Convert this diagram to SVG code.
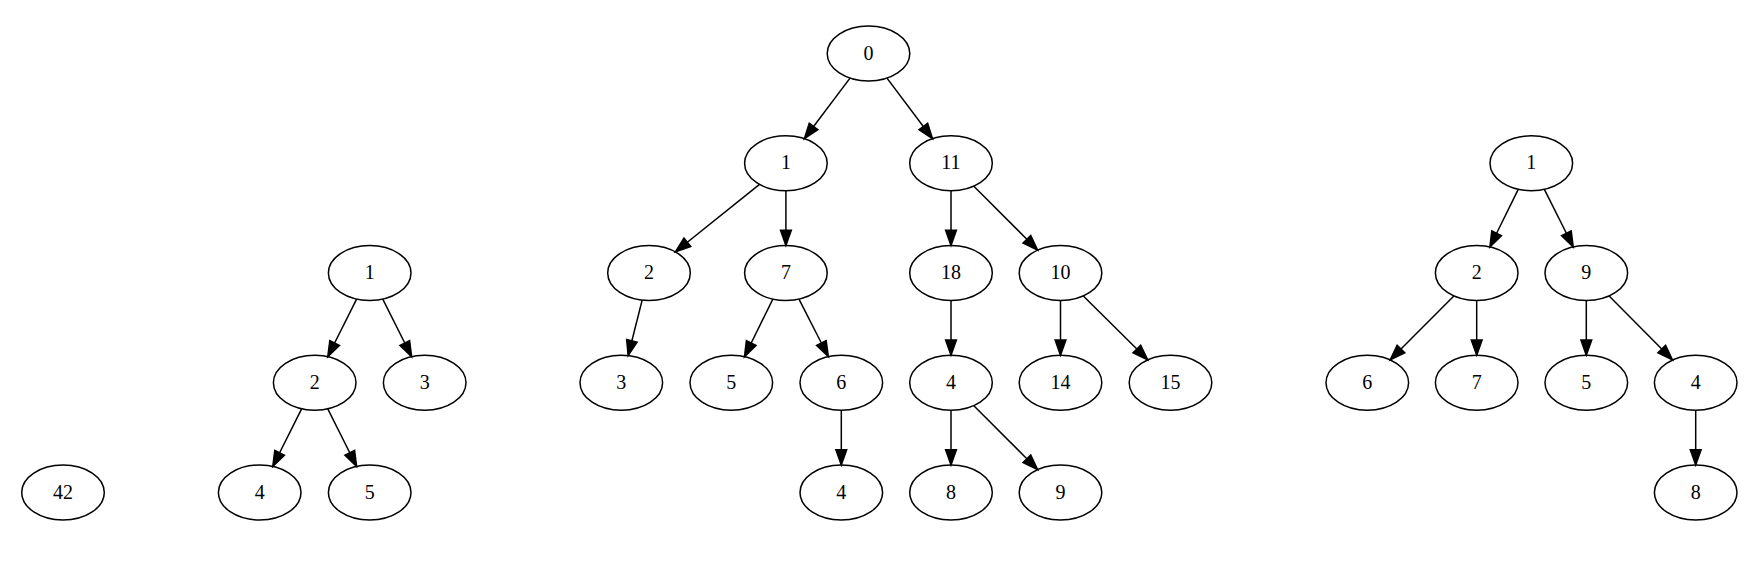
<svg xmlns="http://www.w3.org/2000/svg" width="1760" height="571" viewBox="0 0 1760 571">
<style>
.node ellipse{fill:none;stroke:#000;stroke-width:1.5}
.node text{font-family:"Liberation Serif","Times New Roman",serif;font-size:20px;text-anchor:middle;fill:#000}
.edge line{stroke:#000;stroke-width:1.5;marker-end:url(#arr)}
</style>
<defs>
<marker id="arr" markerUnits="userSpaceOnUse" markerWidth="20" markerHeight="14" refX="0" refY="0" orient="auto" overflow="visible">
<path d="M0,-5.4 L15.3,0 L0,5.4 Z" fill="#000" stroke="#000" stroke-width="1.5"/>
</marker>
</defs>
<rect width="1760" height="571" fill="#fff"/>
<g id="edges" class="edge">
<line x1="356.63" y1="299.09" x2="334.63" y2="342.98"/>
<line x1="382.77" y1="299.09" x2="404.77" y2="342.98"/>
<line x1="301.63" y1="408.84" x2="279.63" y2="452.73"/>
<line x1="327.77" y1="408.84" x2="349.77" y2="452.73"/>
<line x1="850.01" y1="78.09" x2="813.58" y2="126.43"/>
<line x1="886.99" y1="78.09" x2="923.32" y2="126.43"/>
<line x1="759.51" y1="184.4" x2="687.33" y2="242.28"/>
<line x1="785.9" y1="190.75" x2="785.9" y2="230.2"/>
<line x1="951" y1="190.75" x2="951" y2="230.2"/>
<line x1="973.85" y1="186.16" x2="1026.84" y2="239.26"/>
<line x1="642.16" y1="300.12" x2="631.89" y2="340.8"/>
<line x1="772.83" y1="299.09" x2="751.23" y2="342.98"/>
<line x1="798.97" y1="299.09" x2="821.37" y2="342.98"/>
<line x1="951" y1="300.5" x2="951" y2="339.95"/>
<line x1="1060.5" y1="300.5" x2="1060.5" y2="339.95"/>
<line x1="1083.35" y1="295.91" x2="1136.84" y2="349.01"/>
<line x1="841.3" y1="410.25" x2="841.3" y2="449.7"/>
<line x1="951" y1="410.25" x2="951" y2="449.7"/>
<line x1="973.85" y1="405.66" x2="1026.84" y2="458.76"/>
<line x1="1518.23" y1="189.34" x2="1496.63" y2="233.23"/>
<line x1="1544.37" y1="189.34" x2="1566.37" y2="233.23"/>
<line x1="1453.85" y1="295.91" x2="1400.96" y2="349.01"/>
<line x1="1476.7" y1="300.5" x2="1476.7" y2="339.95"/>
<line x1="1586.3" y1="300.5" x2="1586.3" y2="339.95"/>
<line x1="1609.15" y1="295.91" x2="1661.74" y2="349.01"/>
<line x1="1695.7" y1="410.25" x2="1695.7" y2="449.7"/>
</g>
<g id="n42" class="node"><ellipse cx="63" cy="492.5" rx="41.3" ry="27.5"/><text x="63" y="498.5">42</text></g>
<g id="a1" class="node"><ellipse cx="369.7" cy="273" rx="41.3" ry="27.5"/><text x="369.7" y="279">1</text></g>
<g id="a2" class="node"><ellipse cx="314.7" cy="382.75" rx="41.3" ry="27.5"/><text x="314.7" y="388.75">2</text></g>
<g id="a3" class="node"><ellipse cx="424.7" cy="382.75" rx="41.3" ry="27.5"/><text x="424.7" y="388.75">3</text></g>
<g id="a4" class="node"><ellipse cx="259.7" cy="492.5" rx="41.3" ry="27.5"/><text x="259.7" y="498.5">4</text></g>
<g id="a5" class="node"><ellipse cx="369.7" cy="492.5" rx="41.3" ry="27.5"/><text x="369.7" y="498.5">5</text></g>
<g id="b0" class="node"><ellipse cx="868.5" cy="53.5" rx="41.3" ry="27.5"/><text x="868.5" y="59.5">0</text></g>
<g id="b1" class="node"><ellipse cx="785.9" cy="163.25" rx="41.3" ry="27.5"/><text x="785.9" y="169.25">1</text></g>
<g id="b11" class="node"><ellipse cx="951" cy="163.25" rx="41.3" ry="27.5"/><text x="951" y="169.25">11</text></g>
<g id="b2" class="node"><ellipse cx="649" cy="273" rx="41.3" ry="27.5"/><text x="649" y="279">2</text></g>
<g id="b7" class="node"><ellipse cx="785.9" cy="273" rx="41.3" ry="27.5"/><text x="785.9" y="279">7</text></g>
<g id="b18" class="node"><ellipse cx="951" cy="273" rx="41.3" ry="27.5"/><text x="951" y="279">18</text></g>
<g id="b10" class="node"><ellipse cx="1060.5" cy="273" rx="41.3" ry="27.5"/><text x="1060.5" y="279">10</text></g>
<g id="b3" class="node"><ellipse cx="621.3" cy="382.75" rx="41.3" ry="27.5"/><text x="621.3" y="388.75">3</text></g>
<g id="b5" class="node"><ellipse cx="731.3" cy="382.75" rx="41.3" ry="27.5"/><text x="731.3" y="388.75">5</text></g>
<g id="b6" class="node"><ellipse cx="841.3" cy="382.75" rx="41.3" ry="27.5"/><text x="841.3" y="388.75">6</text></g>
<g id="b4" class="node"><ellipse cx="951" cy="382.75" rx="41.3" ry="27.5"/><text x="951" y="388.75">4</text></g>
<g id="b14" class="node"><ellipse cx="1060.5" cy="382.75" rx="41.3" ry="27.5"/><text x="1060.5" y="388.75">14</text></g>
<g id="b15" class="node"><ellipse cx="1170.5" cy="382.75" rx="41.3" ry="27.5"/><text x="1170.5" y="388.75">15</text></g>
<g id="b4b" class="node"><ellipse cx="841.3" cy="492.5" rx="41.3" ry="27.5"/><text x="841.3" y="498.5">4</text></g>
<g id="b8" class="node"><ellipse cx="951" cy="492.5" rx="41.3" ry="27.5"/><text x="951" y="498.5">8</text></g>
<g id="b9" class="node"><ellipse cx="1060.5" cy="492.5" rx="41.3" ry="27.5"/><text x="1060.5" y="498.5">9</text></g>
<g id="c1" class="node"><ellipse cx="1531.3" cy="163.25" rx="41.3" ry="27.5"/><text x="1531.3" y="169.25">1</text></g>
<g id="c2" class="node"><ellipse cx="1476.7" cy="273" rx="41.3" ry="27.5"/><text x="1476.7" y="279">2</text></g>
<g id="c9" class="node"><ellipse cx="1586.3" cy="273" rx="41.3" ry="27.5"/><text x="1586.3" y="279">9</text></g>
<g id="c6" class="node"><ellipse cx="1367.3" cy="382.75" rx="41.3" ry="27.5"/><text x="1367.3" y="388.75">6</text></g>
<g id="c7" class="node"><ellipse cx="1476.7" cy="382.75" rx="41.3" ry="27.5"/><text x="1476.7" y="388.75">7</text></g>
<g id="c5" class="node"><ellipse cx="1586.3" cy="382.75" rx="41.3" ry="27.5"/><text x="1586.3" y="388.75">5</text></g>
<g id="c4" class="node"><ellipse cx="1695.7" cy="382.75" rx="41.3" ry="27.5"/><text x="1695.7" y="388.75">4</text></g>
<g id="c8" class="node"><ellipse cx="1695.7" cy="492.5" rx="41.3" ry="27.5"/><text x="1695.7" y="498.5">8</text></g>
</svg>
